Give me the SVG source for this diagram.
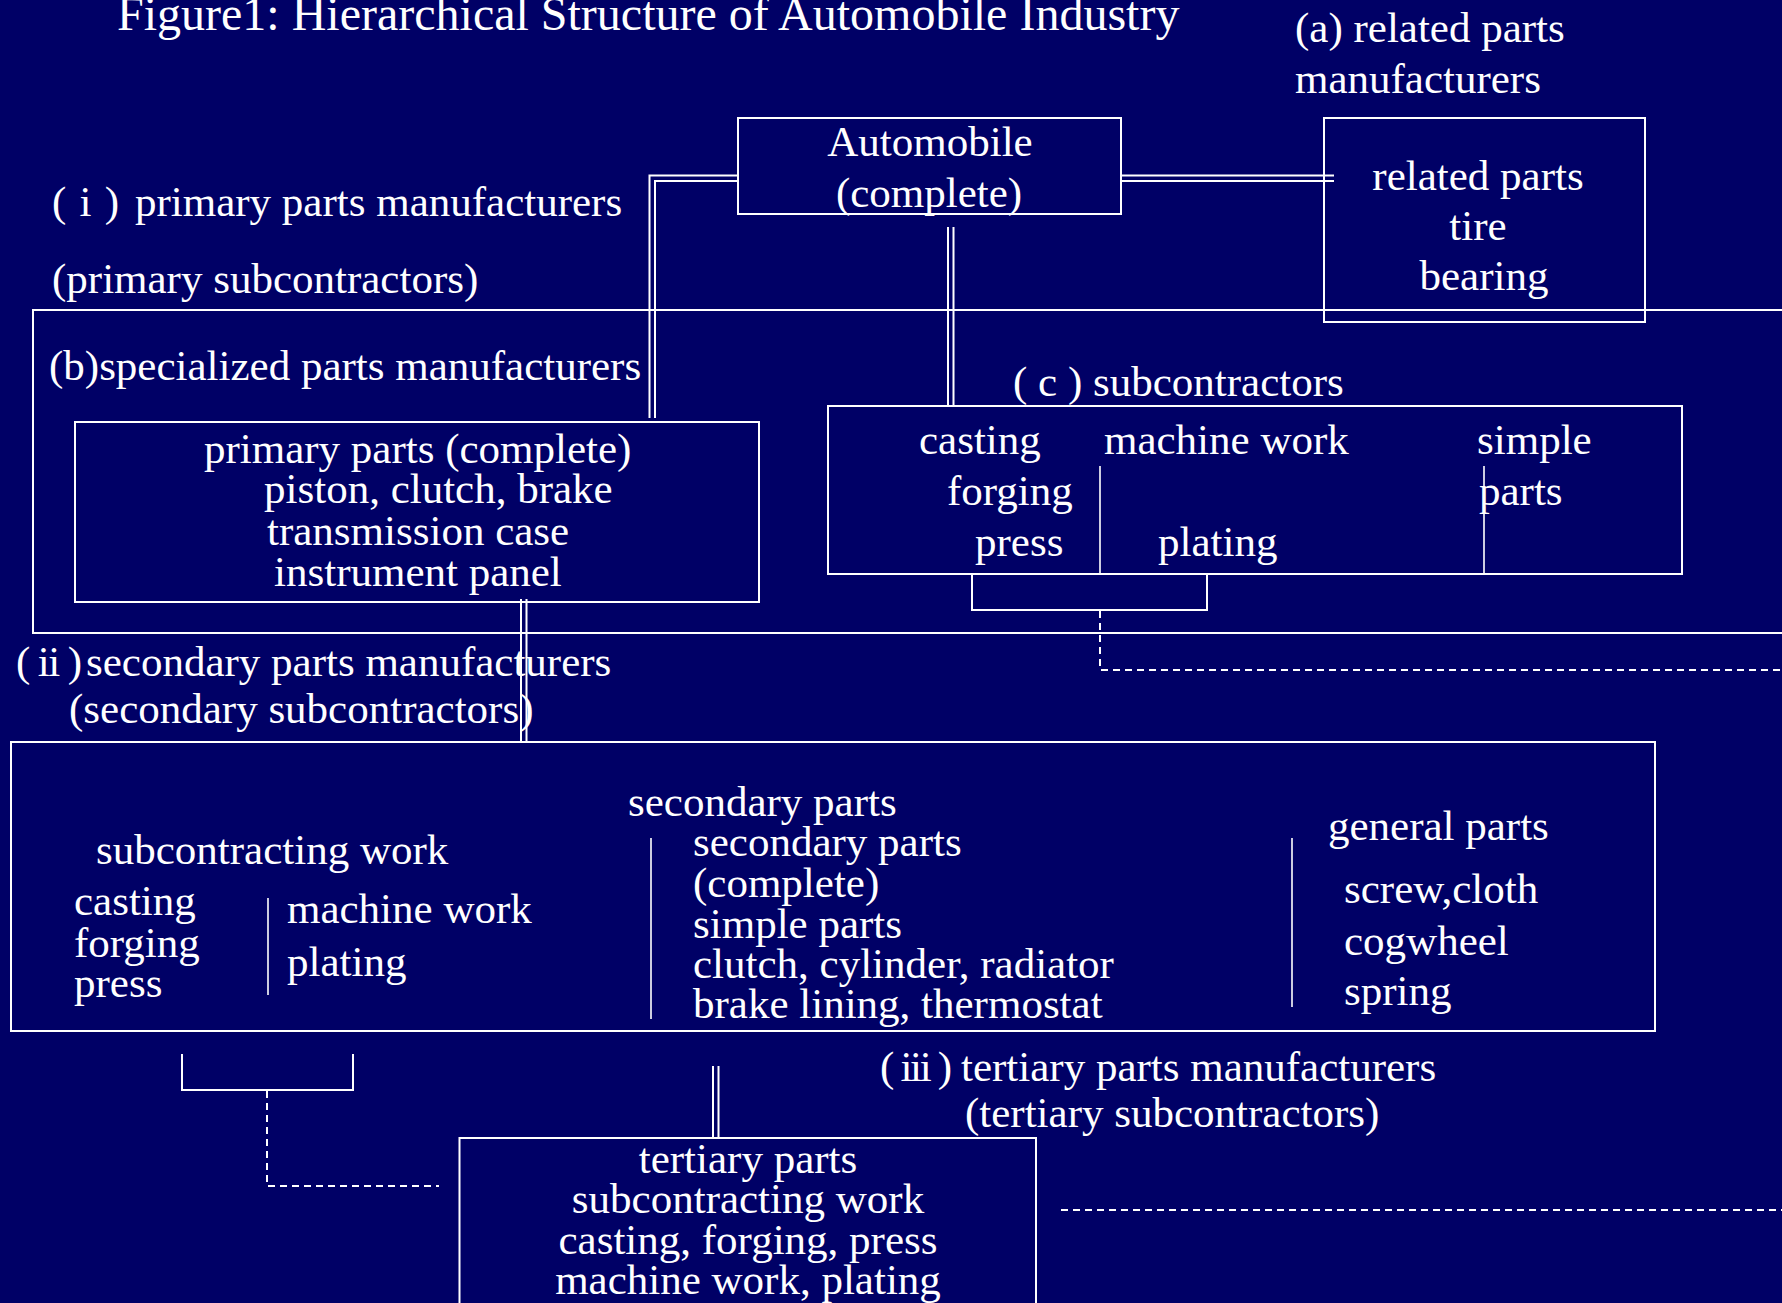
<svg xmlns="http://www.w3.org/2000/svg" width="1782" height="1303" viewBox="0 0 1782 1303">
<style>
.box{fill:none;stroke:#fff;stroke-width:2}
.div{fill:none;stroke:#fff;stroke-width:1.6}
.ln{fill:none;stroke:#fff;stroke-width:2}
.dash{fill:none;stroke:#fff;stroke-width:2;stroke-dasharray:7 5}
.t{font-family:"Liberation Serif","Times New Roman",serif;font-size:43px;fill:#fff}
.title{font-family:"Liberation Serif","Times New Roman",serif;font-size:48px;fill:#fff}
.c{text-anchor:middle}
</style>
<rect x="0" y="0" width="1782" height="1303" fill="#000066"/>

<g id="title"><text class="title" x="117" y="30">Figure1: Hierarchical Structure of Automobile Industry</text></g>

<g id="primary-tier">
<path class="box" d="M1790,310 H33 V633 H1790"/>
<text class="t" x="52" y="216" textLength="67" lengthAdjust="spacing">( i )</text>
<text class="t" x="135" y="216">primary parts manufacturers</text>
<text class="t" x="52" y="293">(primary subcontractors)</text>
<text class="t" x="49" y="380">(b)specialized parts manufacturers</text>
</g>

<g id="related-label">
<text class="t" x="1295" y="42">(a) related parts</text>
<text class="t" x="1295" y="93">manufacturers</text>
</g>

<g id="automobile">
<rect class="box" x="738" y="118" width="383" height="96"/>
<text class="t c" x="930" y="156">Automobile</text>
<text class="t c" x="929" y="207">(complete)</text>
</g>

<g id="related-parts">
<rect class="box" x="1324" y="118" width="321" height="204"/>
<text class="t c" x="1478" y="190">related parts</text>
<text class="t c" x="1478" y="240">tire</text>
<text class="t c" x="1484" y="290">bearing</text>
</g>

<g id="primary-parts">
<rect class="box" x="75" y="422" width="684" height="180"/>
<text class="t" x="204" y="463">primary parts (complete)</text>
<text class="t" x="264" y="503">piston, clutch, brake</text>
<text class="t" x="267" y="545">transmission case</text>
<text class="t" x="274" y="586">instrument panel</text>
</g>

<g id="subcontractors">
<text class="t" x="1013" y="396">( c ) subcontractors</text>
<rect class="box" x="828" y="406" width="854" height="168"/>
<path class="div" d="M1100,466 V574 M1484,466 V574"/>
<text class="t" x="919" y="454">casting</text>
<text class="t" x="947" y="505">forging</text>
<text class="t" x="975" y="556">press</text>
<text class="t" x="1104" y="454">machine work</text>
<text class="t" x="1158" y="556">plating</text>
<text class="t" x="1477" y="454">simple</text>
<text class="t" x="1479" y="505">parts</text>
<path class="ln" d="M972,574 V610 H1207 V574"/>
</g>

<g id="secondary-label">
<text class="t" x="16" y="676" textLength="66" lengthAdjust="spacing">( ii )</text>
<text class="t" x="86" y="676">secondary parts manufacturers</text>
<text class="t" x="69" y="723">(secondary subcontractors)</text>
</g>

<g id="secondary">
<rect class="box" x="11" y="742" width="1644" height="289"/>
<text class="t" x="96" y="864">subcontracting work</text>
<text class="t" x="74" y="915">casting</text>
<text class="t" x="74" y="957">forging</text>
<text class="t" x="74" y="997">press</text>
<path class="div" d="M268,898 V995"/>
<text class="t" x="287" y="923">machine work</text>
<text class="t" x="287" y="976">plating</text>
<text class="t" x="628" y="816">secondary parts</text>
<path class="div" d="M651,838 V1019"/>
<text class="t" x="693" y="856">secondary parts</text>
<text class="t" x="693" y="897">(complete)</text>
<text class="t" x="693" y="938">simple parts</text>
<text class="t" x="693" y="978">clutch, cylinder, radiator</text>
<text class="t" x="693" y="1018">brake lining, thermostat</text>
<path class="div" d="M1292,838 V1007"/>
<text class="t" x="1328" y="840">general parts</text>
<text class="t" x="1344" y="903">screw,cloth</text>
<text class="t" x="1344" y="955">cogwheel</text>
<text class="t" x="1344" y="1005">spring</text>
<path class="ln" d="M182,1054 V1090 H353 V1054"/>
</g>

<g id="tertiary">
<text class="t" x="880" y="1081" textLength="72" lengthAdjust="spacing">( iii )</text>
<text class="t" x="961" y="1081">tertiary parts manufacturers</text>
<text class="t" x="965" y="1127">(tertiary subcontractors)</text>
<path class="box" d="M459.5,1310 V1138 H1036 V1310"/>
<text class="t c" x="748" y="1173">tertiary parts</text>
<text class="t c" x="748" y="1213">subcontracting work</text>
<text class="t c" x="748" y="1254">casting, forging, press</text>
<text class="t c" x="748" y="1294">machine work, plating</text>
</g>

<g id="connectors">
<path class="ln" d="M738,175.5 H649.5 V418"/>
<path class="ln" d="M738,181 H655 V418"/>
<path class="ln" d="M1122,175.5 H1334 M1122,181 H1334"/>
<path class="ln" d="M948,227 V406 M953.5,227 V406"/>
<path class="ln" d="M521,599 V742 M526.5,599 V742"/>
<path class="ln" d="M713,1066 V1138 M718.5,1066 V1138"/>
<path class="dash" d="M1100,611 V670 H1782"/>
<path class="dash" d="M267,1091 V1186 H439"/>
<path class="dash" d="M1061,1210 H1782"/>
</g>
</svg>
